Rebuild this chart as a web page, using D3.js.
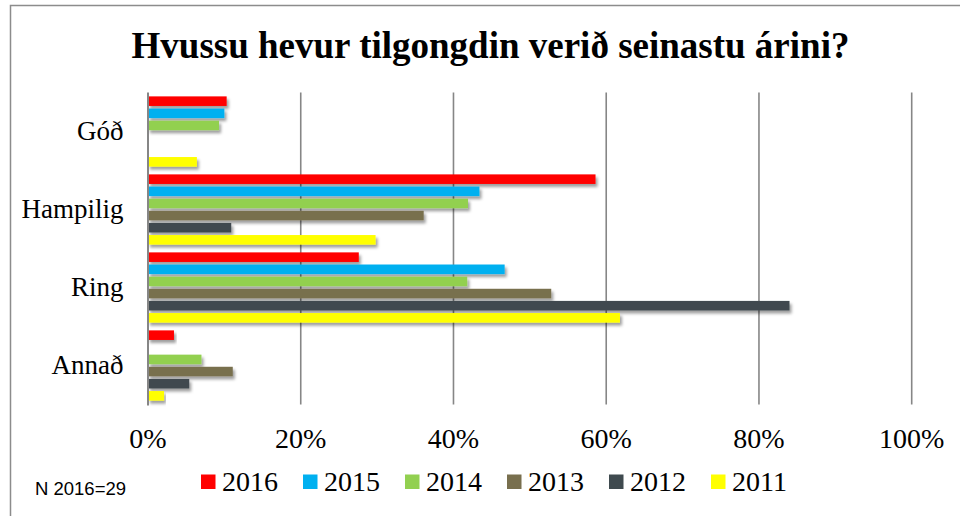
<!DOCTYPE html>
<html>
<head>
<meta charset="utf-8">
<script src="https://cdn.jsdelivr.net/npm/d3@7"></script>
<style>
  html, body { margin: 0; padding: 0; background: #fff; }
  svg { display: block; }
</style>
</head>
<body>
<svg id="chart" width="960" height="516"></svg>
<script>
const title = "Hvussu hevur tilgongdin verið seinastu árini?";
const categories = ["Góð", "Hampilig", "Ring", "Annað"];
const years = ["2016", "2015", "2014", "2013", "2012", "2011"];
const v2016 = [10.3, 58.6, 27.6, 3.4];
const v2015 = [10.0, 43.4, 46.7, 0];
const v2014 = [9.3, 41.9, 41.8, 7.0];
const v2013 = [0, 36.1, 52.8, 11.1];
const v2012 = [0, 10.9, 84.0, 5.4];
const v2011 = [6.4, 29.8, 61.8, 2.1];
const tickValues = [0, 20, 40, 60, 80, 100];
const tickLabels = ["0%", "20%", "40%", "60%", "80%", "100%"];
const colors = ["#FF0000", "#00B0F0", "#92D050", "#786F4E", "#3F4A4F", "#FFFF00"];
const note = "N 2016=29";

const seriesValues = [v2016, v2015, v2014, v2013, v2012, v2011];

const svg = d3.select("#chart");

const defs = svg.append("defs");
const f = defs.append("filter").attr("id", "shadow")
  .attr("x", "-5%").attr("y", "-30%").attr("width", "115%").attr("height", "190%");
f.append("feDropShadow").attr("dx", 2).attr("dy", 3).attr("stdDeviation", 1.6)
  .attr("flood-color", "#000").attr("flood-opacity", 0.38);

// frame
svg.append("rect").attr("x", 10.5).attr("y", 5.5).attr("width", 980).attr("height", 540)
  .attr("fill", "none").attr("stroke", "#8c8c8c").attr("stroke-width", 1.5);

// title
svg.append("text").attr("x", 490.5).attr("y", 58).attr("text-anchor", "middle")
  .attr("font-family", "'Liberation Serif', 'Times New Roman', serif")
  .attr("font-weight", "bold").attr("font-size", 37).attr("fill", "#000")
  .text(title);

const x = d3.scaleLinear().domain([0, 100]).range([148, 911.7]);
const y = d3.scaleBand().domain(categories).range([92.5, 404.5]).padding(0);
const yInner = d3.scaleBand().domain(years).range([0, y.bandwidth()])
  .paddingInner(0.21).paddingOuter(0.32);

// gridlines
svg.append("g").selectAll("line").data(tickValues.slice(1)).join("line")
  .attr("x1", d => x(d)).attr("x2", d => x(d))
  .attr("y1", 92.5).attr("y2", 404.5)
  .attr("stroke", "#868686").attr("stroke-width", 1.6);

// bars
const groups = svg.append("g").selectAll("g").data(categories).join("g")
  .attr("transform", c => `translate(0,${y(c)})`);
groups.selectAll("rect")
  .data((c, ci) => years.map((yr, si) => ({ yr, si, v: seriesValues[si][ci] })).filter(d => d.v > 0))
  .join("rect")
  .attr("x", x(0))
  .attr("y", d => yInner(d.yr))
  .attr("width", d => x(d.v) - x(0))
  .attr("height", yInner.bandwidth())
  .attr("fill", d => colors[d.si])
  .attr("filter", "url(#shadow)");

// zero axis line
svg.append("line").attr("x1", x(0)).attr("x2", x(0)).attr("y1", 92.5).attr("y2", 405.5)
  .attr("stroke", "#868686").attr("stroke-width", 2);

// category labels
svg.append("g").selectAll("text").data(categories).join("text")
  .attr("x", 123.5).attr("y", c => y(c) + y.bandwidth() / 2 + 8)
  .attr("text-anchor", "end")
  .attr("font-family", "'Liberation Serif', 'Times New Roman', serif")
  .attr("font-size", 27).attr("fill", "#000")
  .text(c => c);

// x tick labels
svg.append("g").selectAll("text").data(tickValues).join("text")
  .attr("x", d => x(d)).attr("y", 448.3)
  .attr("text-anchor", "middle")
  .attr("font-family", "'Liberation Serif', 'Times New Roman', serif")
  .attr("font-size", 28).attr("fill", "#000")
  .text((d, i) => tickLabels[i]);

// legend
const leg = svg.append("g").selectAll("g").data(years).join("g")
  .attr("transform", (d, i) => `translate(${201 + i * 102},0)`);
leg.append("rect").attr("x", 0).attr("y", 474.5).attr("width", 14.5).attr("height", 14.5)
  .attr("fill", (d, i) => colors[i]);
leg.append("text").attr("x", 21).attr("y", 490.7)
  .attr("font-family", "'Liberation Serif', 'Times New Roman', serif")
  .attr("font-size", 28).attr("fill", "#000")
  .text(d => d);

// note
svg.append("text").attr("x", 35).attr("y", 495)
  .attr("font-family", "'Liberation Sans', Arial, sans-serif")
  .attr("font-size", 18.5).attr("fill", "#000")
  .text(note);
</script>
</body>
</html>
